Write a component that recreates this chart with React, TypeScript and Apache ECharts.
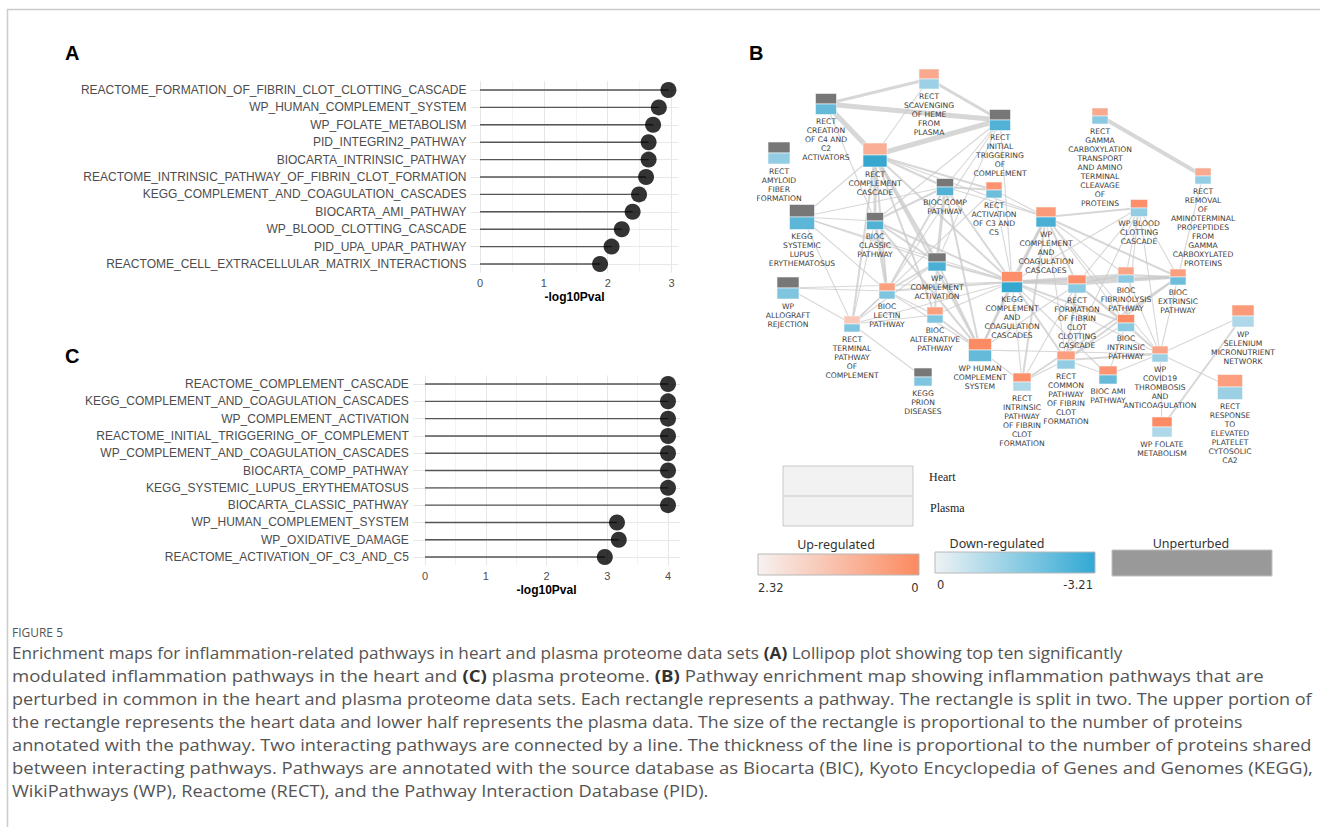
import React, { useEffect, useRef } from 'react';
import * as echarts from 'echarts';

const W = 1320;
const H = 827;

// ---------- Panel A (heart) ----------
const panelACategories = [
  'REACTOME_FORMATION_OF_FIBRIN_CLOT_CLOTTING_CASCADE',
  'WP_HUMAN_COMPLEMENT_SYSTEM',
  'WP_FOLATE_METABOLISM',
  'PID_INTEGRIN2_PATHWAY',
  'BIOCARTA_INTRINSIC_PATHWAY',
  'REACTOME_INTRINSIC_PATHWAY_OF_FIBRIN_CLOT_FORMATION',
  'KEGG_COMPLEMENT_AND_COAGULATION_CASCADES',
  'BIOCARTA_AMI_PATHWAY',
  'WP_BLOOD_CLOTTING_CASCADE',
  'PID_UPA_UPAR_PATHWAY',
  'REACTOME_CELL_EXTRACELLULAR_MATRIX_INTERACTIONS',
];
const panelAValues = [2.95, 2.8, 2.71, 2.64, 2.64, 2.6, 2.49, 2.39, 2.22, 2.06, 1.88];
const panelATicks = [0, 1, 2, 3];
const panelAMinor = [0.5, 1.5, 2.5];

// ---------- Panel C (plasma) ----------
const panelCCategories = [
  'REACTOME_COMPLEMENT_CASCADE',
  'KEGG_COMPLEMENT_AND_COAGULATION_CASCADES',
  'WP_COMPLEMENT_ACTIVATION',
  'REACTOME_INITIAL_TRIGGERING_OF_COMPLEMENT',
  'WP_COMPLEMENT_AND_COAGULATION_CASCADES',
  'BIOCARTA_COMP_PATHWAY',
  'KEGG_SYSTEMIC_LUPUS_ERYTHEMATOSUS',
  'BIOCARTA_CLASSIC_PATHWAY',
  'WP_HUMAN_COMPLEMENT_SYSTEM',
  'WP_OXIDATIVE_DAMAGE',
  'REACTOME_ACTIVATION_OF_C3_AND_C5',
];
const panelCValues = [4, 4, 4, 4, 4, 4, 4, 4, 3.16, 3.19, 2.96];
const panelCTicks = [0, 1, 2, 3, 4];
const panelCMinor = [0.5, 1.5, 2.5, 3.5];

// ---------- Panel B (network) ----------
const nodeIds = [
  'SCAV', 'CREATION', 'INITIAL', 'AMYLOID', 'COMPCASC', 'BIOCCOMP', 'ACTC3C5', 'KEGGSLE',
  'BIOCCLASSIC', 'WPCOMPACT', 'GAMMA', 'REMOVAL', 'WPCOMPCOAG', 'WPBLOOD', 'KEGGCOMP', 'FORMATION',
  'FIBRINOLYSIS', 'EXTRINSIC', 'BIOCINTRINSIC', 'SELENIUM', 'COMMON', 'BIOCAMI', 'COVID', 'RECTINTRINSIC',
  'RESPONSE', 'FOLATE', 'ALLOGRAFT', 'LECTIN', 'TERMINAL', 'ALTERNATIVE', 'WPHUMAN', 'PRION',
];
const nodeLabels = [
  'RECT\nSCAVENGING\nOF HEME\nFROM\nPLASMA',
  'RECT\nCREATION\nOF C4 AND\nC2\nACTIVATORS',
  'RECT\nINITIAL\nTRIGGERING\nOF\nCOMPLEMENT',
  'RECT\nAMYLOID\nFIBER\nFORMATION',
  'RECT\nCOMPLEMENT\nCASCADE',
  'BIOC COMP\nPATHWAY',
  'RECT\nACTIVATION\nOF C3 AND\nC5',
  'KEGG\nSYSTEMIC\nLUPUS\nERYTHEMATOSUS',
  'BIOC\nCLASSIC\nPATHWAY',
  'WP\nCOMPLEMENT\nACTIVATION',
  'RECT\nGAMMA\nCARBOXYLATION\nTRANSPORT\nAND AMINO\nTERMINAL\nCLEAVAGE\nOF\nPROTEINS',
  'RECT\nREMOVAL\nOF\nAMINOTERMINAL\nPROPEPTIDES\nFROM\nGAMMA\nCARBOXYLATED\nPROTEINS',
  'WP\nCOMPLEMENT\nAND\nCOAGULATION\nCASCADES',
  'WP BLOOD\nCLOTTING\nCASCADE',
  'KEGG\nCOMPLEMENT\nAND\nCOAGULATION\nCASCADES',
  'RECT\nFORMATION\nOF FIBRIN\nCLOT\nCLOTTING\nCASCADE',
  'BIOC\nFIBRINOLYSIS\nPATHWAY',
  'BIOC\nEXTRINSIC\nPATHWAY',
  'BIOC\nINTRINSIC\nPATHWAY',
  'WP\nSELENIUM\nMICRONUTRIENT\nNETWORK',
  'RECT\nCOMMON\nPATHWAY\nOF FIBRIN\nCLOT\nFORMATION',
  'BIOC AMI\nPATHWAY',
  'WP\nCOVID19\nTHROMBOSIS\nAND\nANTICOAGULATION',
  'RECT\nINTRINSIC\nPATHWAY\nOF FIBRIN\nCLOT\nFORMATION',
  'RECT\nRESPONSE\nTO\nELEVATED\nPLATELET\nCYTOSOLIC\nCA2',
  'WP FOLATE\nMETABOLISM',
  'WP\nALLOGRAFT\nREJECTION',
  'BIOC\nLECTIN\nPATHWAY',
  'RECT\nTERMINAL\nPATHWAY\nOF\nCOMPLEMENT',
  'BIOC\nALTERNATIVE\nPATHWAY',
  'WP HUMAN\nCOMPLEMENT\nSYSTEM',
  'KEGG\nPRION\nDISEASES',
];
// layout coordinates of the network (relative to panel origin)
const nodeX = [189, 86, 260, 39, 135, 205, 254, 62, 135, 197, 360, 463, 306, 399, 272, 337,
  386, 438, 386, 503, 326, 368, 420, 282, 490, 422, 48, 147, 112, 195, 240, 183];
const nodeY = [39, 64, 80, 113, 115, 147, 150, 177, 181, 222, 76, 136, 177, 168, 242, 244,
  235, 237, 283, 276, 320, 335, 314, 342, 347, 387, 248, 251, 284, 275, 310, 337];
// number-of-proteins scaled rectangle size
const nodeSize = [20, 21, 21, 22, 24, 17, 16, 25, 17, 18, 16, 16, 20, 17, 21, 18,
  16, 16, 17, 22, 18, 18, 16, 18, 25, 20, 22, 16, 16, 16, 23, 18];
// heart (upper half) and plasma (lower half) values; null = unperturbed
const heartValues: (number | null)[] = [1.62, null, null, null, 1.51, null, 2.09, null,
  null, null, 1.62, 1.62, 1.97, 2.2, 2.2, 2.2,
  1.74, 1.86, 2.32, 1.97, 1.86, 2.09, 1.74, 2.2,
  1.86, 2.32, null, 1.86, 0.93, 1.86, 2.32, null];
const plasmaValues: (number | null)[] = [-1.44, -2.41, -2.73, -1.6, -3.21, -2.73, -2.25, -2.57,
  -2.73, -2.89, -1.77, -1.6, -2.89, -1.6, -3.21, -1.77,
  -1.77, -2.25, -1.77, -1.12, -1.6, -2.41, -1.44, -1.12,
  -1.44, -1.12, -1.93, -1.93, -1.93, -1.93, -2.41, -1.93];

// edges: [source, target, shared proteins weight]
const edgeList: [string, string, number][] = [
  ['CREATION', 'INITIAL', 5], ['CREATION', 'COMPCASC', 5], ['COMPCASC', 'INITIAL', 5],
  ['SCAV', 'CREATION', 3], ['SCAV', 'INITIAL', 3], ['SCAV', 'COMPCASC', 1], ['GAMMA', 'REMOVAL', 4],
  ['COMPCASC', 'BIOCCLASSIC', 3], ['COMPCASC', 'WPCOMPACT', 3], ['COMPCASC', 'BIOCCOMP', 2],
  ['COMPCASC', 'ACTC3C5', 2], ['COMPCASC', 'LECTIN', 2], ['COMPCASC', 'ALTERNATIVE', 2],
  ['COMPCASC', 'TERMINAL', 2], ['COMPCASC', 'KEGGCOMP', 2], ['COMPCASC', 'WPHUMAN', 2],
  ['COMPCASC', 'KEGGSLE', 1], ['COMPCASC', 'WPCOMPCOAG', 1],
  ['INITIAL', 'BIOCCOMP', 1], ['INITIAL', 'BIOCCLASSIC', 1], ['INITIAL', 'WPCOMPACT', 1],
  ['INITIAL', 'LECTIN', 1], ['INITIAL', 'KEGGCOMP', 1], ['CREATION', 'BIOCCLASSIC', 1],
  ['KEGGSLE', 'BIOCCLASSIC', 1], ['KEGGSLE', 'BIOCCOMP', 1], ['KEGGSLE', 'WPCOMPACT', 1],
  ['KEGGSLE', 'TERMINAL', 1], ['KEGGSLE', 'KEGGCOMP', 1], ['KEGGSLE', 'LECTIN', 1],
  ['BIOCCOMP', 'ACTC3C5', 2], ['BIOCCOMP', 'WPCOMPACT', 3], ['BIOCCOMP', 'BIOCCLASSIC', 2],
  ['BIOCCOMP', 'LECTIN', 2], ['BIOCCOMP', 'WPHUMAN', 2], ['BIOCCOMP', 'KEGGCOMP', 2],
  ['BIOCCOMP', 'WPCOMPCOAG', 1], ['ACTC3C5', 'KEGGCOMP', 1], ['ACTC3C5', 'WPCOMPCOAG', 1],
  ['ACTC3C5', 'TERMINAL', 1], ['BIOCCLASSIC', 'WPCOMPACT', 2], ['BIOCCLASSIC', 'LECTIN', 3],
  ['BIOCCLASSIC', 'WPHUMAN', 2], ['BIOCCLASSIC', 'KEGGCOMP', 2], ['BIOCCLASSIC', 'TERMINAL', 1],
  ['WPCOMPACT', 'LECTIN', 2], ['WPCOMPACT', 'ALTERNATIVE', 2], ['WPCOMPACT', 'KEGGCOMP', 2],
  ['WPCOMPACT', 'WPHUMAN', 2], ['WPCOMPACT', 'TERMINAL', 1], ['LECTIN', 'KEGGCOMP', 2],
  ['LECTIN', 'WPHUMAN', 1], ['LECTIN', 'TERMINAL', 1], ['LECTIN', 'ALTERNATIVE', 1],
  ['ALTERNATIVE', 'KEGGCOMP', 1], ['ALTERNATIVE', 'WPHUMAN', 2], ['ALTERNATIVE', 'TERMINAL', 1],
  ['TERMINAL', 'KEGGCOMP', 1], ['TERMINAL', 'PRION', 1], ['ALLOGRAFT', 'LECTIN', 1],
  ['ALLOGRAFT', 'TERMINAL', 1], ['ALLOGRAFT', 'KEGGCOMP', 1], ['WPHUMAN', 'KEGGCOMP', 2],
  ['WPHUMAN', 'WPCOMPCOAG', 2], ['WPHUMAN', 'COVID', 1], ['WPHUMAN', 'RECTINTRINSIC', 1],
  ['WPHUMAN', 'FORMATION', 1], ['KEGGCOMP', 'WPCOMPCOAG', 3], ['KEGGCOMP', 'FORMATION', 3],
  ['KEGGCOMP', 'FIBRINOLYSIS', 3], ['KEGGCOMP', 'EXTRINSIC', 3], ['KEGGCOMP', 'BIOCINTRINSIC', 2],
  ['KEGGCOMP', 'COMMON', 2], ['KEGGCOMP', 'RECTINTRINSIC', 1], ['KEGGCOMP', 'WPBLOOD', 1],
  ['KEGGCOMP', 'COVID', 1], ['KEGGCOMP', 'BIOCAMI', 1], ['WPCOMPCOAG', 'WPBLOOD', 2],
  ['WPCOMPCOAG', 'EXTRINSIC', 2], ['WPCOMPCOAG', 'FIBRINOLYSIS', 1], ['WPCOMPCOAG', 'FORMATION', 2],
  ['WPCOMPCOAG', 'BIOCINTRINSIC', 1], ['WPCOMPCOAG', 'COVID', 1], ['WPCOMPCOAG', 'RECTINTRINSIC', 2],
  ['WPCOMPCOAG', 'COMMON', 1], ['WPBLOOD', 'FORMATION', 1], ['WPBLOOD', 'FIBRINOLYSIS', 1],
  ['WPBLOOD', 'EXTRINSIC', 1], ['WPBLOOD', 'BIOCINTRINSIC', 1], ['WPBLOOD', 'COVID', 1],
  ['WPBLOOD', 'COMMON', 1], ['FORMATION', 'EXTRINSIC', 3], ['FORMATION', 'FIBRINOLYSIS', 2],
  ['FORMATION', 'BIOCINTRINSIC', 2], ['FORMATION', 'COMMON', 2], ['FORMATION', 'COVID', 1],
  ['FORMATION', 'RECTINTRINSIC', 1], ['FIBRINOLYSIS', 'EXTRINSIC', 2], ['FIBRINOLYSIS', 'COVID', 1],
  ['EXTRINSIC', 'RECTINTRINSIC', 2], ['EXTRINSIC', 'COMMON', 2], ['EXTRINSIC', 'COVID', 1],
  ['EXTRINSIC', 'REMOVAL', 1], ['BIOCINTRINSIC', 'BIOCAMI', 1], ['BIOCINTRINSIC', 'COMMON', 1],
  ['BIOCINTRINSIC', 'COVID', 1], ['COMMON', 'COVID', 2], ['COMMON', 'BIOCAMI', 1],
  ['COMMON', 'RECTINTRINSIC', 1], ['BIOCAMI', 'COVID', 1], ['COVID', 'SELENIUM', 1],
  ['COVID', 'RESPONSE', 1], ['COVID', 'FOLATE', 1], ['SELENIUM', 'FOLATE', 2],
];

// ---------- legend ----------
const upRange = [2.32, 0];
const downRange = [0, -3.21];

// ---------- caption ----------
const captionTitle = 'FIGURE 5';
const captionLines: [string, boolean][][] = [
  [['Enrichment maps for inflammation-related pathways in heart and plasma proteome data sets ', false], ['(A)', true], [' Lollipop plot showing top ten significantly', false]],
  [['modulated inflammation pathways in the heart and ', false], ['(C)', true], [' plasma proteome. ', false], ['(B)', true], [' Pathway enrichment map showing inflammation pathways that are', false]],
  [['perturbed in common in the heart and plasma proteome data sets. Each rectangle represents a pathway. The rectangle is split in two. The upper portion of', false]],
  [['the rectangle represents the heart data and lower half represents the plasma data. The size of the rectangle is proportional to the number of proteins', false]],
  [['annotated with the pathway. Two interacting pathways are connected by a line. The thickness of the line is proportional to the number of proteins shared', false]],
  [['between interacting pathways. Pathways are annotated with the source database as Biocarta (BIC), Kyoto Encyclopedia of Genes and Genomes (KEGG),', false]],
  [['WikiPathways (WP), Reactome (RECT), and the Pathway Interaction Database (PID).', false]],
];
const captionWidths = [1110, 1252, 1301, 1230, 1301, 1301, 697];

// ---------- helpers ----------
const UP_LOW = [247, 242, 241];
const UP_HIGH = [252, 138, 99];
const DOWN_LOW = [238, 243, 246];
const DOWN_HIGH = [55, 167, 208];
const UNPERTURBED = '#777777';

function valueColor(v: number | null): string {
  if (v === null || v === undefined) return UNPERTURBED;
  const up = v >= 0;
  const lo = up ? UP_LOW : DOWN_LOW;
  const hi = up ? UP_HIGH : DOWN_HIGH;
  const t = Math.min(1, up ? v / upRange[0] : v / downRange[1]);
  const c = lo.map((l, i) => Math.round(l + (hi[i] - l) * t));
  return `rgb(${c[0]},${c[1]},${c[2]})`;
}

function lollipop(
  idx: number,
  cats: string[],
  vals: number[],
  ticks: number[],
  minor: number[],
) {
  const major = ticks.map((t) => ({ xAxis: t, lineStyle: { color: '#e6e6e6', width: 1, type: 'solid' } }));
  const minors = minor.map((t) => ({ xAxis: t, lineStyle: { color: '#f3f3f3', width: 1, type: 'solid' } }));
  const rows = cats.map((c) => ({ yAxis: c, lineStyle: { color: '#e8e8e8', width: 1, type: 'solid' } }));
  return [
    {
      type: 'bar',
      xAxisIndex: idx,
      yAxisIndex: idx,
      data: vals,
      barWidth: 1.4,
      itemStyle: { color: '#555555' },
      z: 2,
      silent: true,
      markLine: {
        silent: true,
        symbol: 'none',
        z: 1,
        label: { show: false },
        emphasis: { disabled: true },
        data: [...minors, ...major, ...rows],
      },
    },
    {
      type: 'scatter',
      xAxisIndex: idx,
      yAxisIndex: idx,
      data: vals.map((v, i) => [v, cats[i]]),
      symbolSize: 16,
      itemStyle: { color: '#000000' },
      z: 3,
      silent: true,
    },
  ];
}

export default function App() {
  const ref = useRef<HTMLDivElement>(null);
  useEffect(() => {
    const el = ref.current;
    if (!el) return;
    const chart = echarts.init(el, undefined, { renderer: 'svg', width: W, height: H });

    // caption measurement
    const canvas = document.createElement('canvas');
    const ctx = canvas.getContext('2d')!;
    const capFamily = '"Open Sans"';
    const capSize = 16;
    const measure = (t: string, bold: boolean) => {
      ctx.font = `${bold ? 'bold ' : ''}${capSize}px ${capFamily}`;
      return ctx.measureText(t).width;
    };
    const captionGraphics = captionLines.map((segs, li) => {
      const total = segs.reduce((s, [t, b]) => s + measure(t, b), 0);
      const sx = total > 0 ? captionWidths[li] / total : 1;
      const text = segs.map(([t, b]) => `{${b ? 'b' : 'n'}|${t}}`).join('');
      return {
        type: 'text',
        x: 12,
        y: 653 + li * 23,
        scaleX: sx,
        style: {
          text,
          align: 'left',
          verticalAlign: 'middle',
          rich: {
            n: { fontSize: capSize, fontFamily: 'Open Sans', fill: '#555555' },
            b: { fontSize: capSize, fontFamily: 'Open Sans', fontWeight: 'bold', fill: '#333333' },
          },
        },
      };
    });
    ctx.font = `12px ${capFamily}`;
    const figW = ctx.measureText(captionTitle).width;

    const edgeData = edgeList.map(([a, b, w]) => {
      const ia = nodeIds.indexOf(a);
      const ib = nodeIds.indexOf(b);
      return [nodeX[ia], nodeY[ia], nodeX[ib], nodeY[ib], w];
    });
    const nodeData = nodeIds.map((_, i) => [nodeX[i], nodeY[i], nodeSize[i], i]);

    const labelStyle = { fontSize: 12, color: '#4d4d4d', fontFamily: 'Liberation Sans', interval: 0, margin: 4 };
    const tickLabel = { fontSize: 11, color: '#4d4d4d', fontFamily: 'Liberation Sans', margin: 5 };
    const nameStyle = { fontSize: 12, fontWeight: 'bold', color: '#000', fontFamily: 'Liberation Sans' };

    const option: any = {
      animation: false,
      grid: [
        { left: 470.5, top: 81.3, width: 208, height: 191.4, outerBoundsMode: 'none' },
        { left: 412.85, top: 375.4, width: 267.3, height: 190.3, outerBoundsMode: 'none' },
        { left: 757, top: 40, width: 563, height: 430, outerBoundsMode: 'none' },
      ],
      xAxis: [
        {
          gridIndex: 0, type: 'value', min: -0.148, max: 3.108,
          axisLine: { show: false }, axisTick: { show: false }, splitLine: { show: false },
          axisLabel: { ...tickLabel, customValues: panelATicks },
          name: '-log10Pval', nameLocation: 'middle', nameGap: 18, nameTextStyle: nameStyle,
        },
        {
          gridIndex: 1, type: 'value', min: -0.2, max: 4.2,
          axisLine: { show: false }, axisTick: { show: false }, splitLine: { show: false },
          axisLabel: { ...tickLabel, customValues: panelCTicks },
          name: '-log10Pval', nameLocation: 'middle', nameGap: 18, nameTextStyle: nameStyle,
        },
        { gridIndex: 2, type: 'value', min: 17, max: 580, show: false },
      ],
      yAxis: [
        {
          gridIndex: 0, type: 'category', data: panelACategories, inverse: true,
          axisLine: { show: false }, axisTick: { show: false }, splitLine: { show: false },
          axisLabel: labelStyle,
        },
        {
          gridIndex: 1, type: 'category', data: panelCCategories, inverse: true,
          axisLine: { show: false }, axisTick: { show: false }, splitLine: { show: false },
          axisLabel: labelStyle,
        },
        { gridIndex: 2, type: 'value', min: 0, max: 430, inverse: true, show: false },
      ],
      series: [
        ...lollipop(0, panelACategories, panelAValues, panelATicks, panelAMinor),
        ...lollipop(1, panelCCategories, panelCValues, panelCTicks, panelCMinor),
        {
          type: 'custom',
          xAxisIndex: 2,
          yAxisIndex: 2,
          clip: true,
          silent: true,
          z: 2,
          dimensions: ['x1', 'y1', 'x2', 'y2', 'w'],
          encode: { x: [0, 2], y: [1, 3] },
          data: edgeData,
          renderItem: (params: any, api: any) => {
            const p1 = api.coord([api.value(0), api.value(1)]);
            const p2 = api.coord([api.value(2), api.value(3)]);
            const w = api.value(4) as number;
            return {
              type: 'line',
              shape: { x1: p1[0], y1: p1[1], x2: p2[0], y2: p2[1] },
              style: { stroke: '#c9c9c9', lineWidth: w === 1 ? 1.1 : w, opacity: 0.75 },
            };
          },
        },
        {
          type: 'custom',
          xAxisIndex: 2,
          yAxisIndex: 2,
          clip: true,
          silent: true,
          z: 3,
          dimensions: ['x', 'y', 'size', 'idx'],
          encode: { x: 0, y: 1 },
          data: nodeData,
          renderItem: (params: any, api: any) => {
            const i = api.value(3) as number;
            const p = api.coord([api.value(0), api.value(1)]);
            const sz = api.size([api.value(2), api.value(2)]) as number[];
            const w = Math.abs(sz[0]);
            const h = Math.abs(sz[1]);
            const x0 = p[0] - w / 2;
            const y0 = p[1] - h / 2;
            return {
              type: 'group',
              children: [
                {
                  type: 'rect',
                  shape: { x: x0, y: y0, width: w, height: h / 2 },
                  style: { fill: valueColor(heartValues[i]), stroke: '#f4f8fa', lineWidth: 0.6 },
                },
                {
                  type: 'rect',
                  shape: { x: x0, y: p[1], width: w, height: h / 2 },
                  style: { fill: valueColor(plasmaValues[i]), stroke: '#f4f8fa', lineWidth: 0.6 },
                },
                {
                  type: 'text',
                  x: p[0],
                  y: y0 + h + 2.5,
                  style: {
                    text: nodeLabels[i],
                    align: 'center',
                    verticalAlign: 'top',
                    fontSize: 7.6,
                    fontFamily: 'DejaVu Sans',
                    lineHeight: 9,
                    fill: '#3c3c3c',
                  },
                },
              ],
            };
          },
        },
      ],
      graphic: [
        // frame
        { type: 'line', shape: { x1: 7, y1: 9.5, x2: W, y2: 9.5 }, style: { stroke: '#cccccc', lineWidth: 1.5 } },
        { type: 'line', shape: { x1: 7.5, y1: 9, x2: 7.5, y2: H }, style: { stroke: '#cccccc', lineWidth: 1.5 } },
        // panel letters
        { type: 'text', x: 65, y: 53, style: { text: 'A', fontSize: 20, fontWeight: 'bold', fontFamily: 'Liberation Sans', fill: '#000', verticalAlign: 'middle' } },
        { type: 'text', x: 749, y: 53, style: { text: 'B', fontSize: 20, fontWeight: 'bold', fontFamily: 'Liberation Sans', fill: '#000', verticalAlign: 'middle' } },
        { type: 'text', x: 65, y: 356, style: { text: 'C', fontSize: 20, fontWeight: 'bold', fontFamily: 'Liberation Sans', fill: '#000', verticalAlign: 'middle' } },
        // Heart / Plasma legend
        { type: 'rect', shape: { x: 783, y: 466, width: 130, height: 60 }, style: { fill: '#f2f2f2', stroke: '#c8c8c8', lineWidth: 1 } },
        { type: 'line', shape: { x1: 783, y1: 496, x2: 913, y2: 496 }, style: { stroke: '#c8c8c8', lineWidth: 1 } },
        { type: 'text', x: 929, y: 477, style: { text: 'Heart', fontSize: 12, fontFamily: 'Liberation Serif', fill: '#222', verticalAlign: 'middle' } },
        { type: 'text', x: 930, y: 508, style: { text: 'Plasma', fontSize: 12, fontFamily: 'Liberation Serif', fill: '#222', verticalAlign: 'middle' } },
        // Up-regulated
        { type: 'text', x: 836, y: 544, style: { text: 'Up-regulated', fontSize: 12.5, fontFamily: 'Noto Sans', fill: '#333', align: 'center', verticalAlign: 'middle' } },
        {
          type: 'rect', shape: { x: 758, y: 554, width: 161, height: 21 },
          style: {
            fill: { type: 'linear', x: 0, y: 0, x2: 1, y2: 0, colorStops: [{ offset: 0, color: '#f6f1f0' }, { offset: 1, color: '#fc8a5f' }] },
            stroke: '#b8b8b8', lineWidth: 1,
          },
        },
        { type: 'text', x: 758, y: 588, style: { text: String(upRange[0]), fontSize: 11.5, fontFamily: 'DejaVu Sans', fill: '#333', align: 'left', verticalAlign: 'middle' } },
        { type: 'text', x: 915, y: 588, style: { text: String(upRange[1]), fontSize: 11.5, fontFamily: 'DejaVu Sans', fill: '#333', align: 'center', verticalAlign: 'middle' } },
        // Down-regulated
        { type: 'text', x: 997, y: 543, style: { text: 'Down-regulated', fontSize: 12.5, fontFamily: 'Noto Sans', fill: '#333', align: 'center', verticalAlign: 'middle' } },
        {
          type: 'rect', shape: { x: 935, y: 552, width: 160, height: 21 },
          style: {
            fill: { type: 'linear', x: 0, y: 0, x2: 1, y2: 0, colorStops: [{ offset: 0, color: '#eef2f4' }, { offset: 1, color: '#31a9d4' }] },
            stroke: '#b8b8b8', lineWidth: 1,
          },
        },
        { type: 'text', x: 937, y: 585, style: { text: String(downRange[0]), fontSize: 11.5, fontFamily: 'DejaVu Sans', fill: '#333', align: 'left', verticalAlign: 'middle' } },
        { type: 'text', x: 1093, y: 585, style: { text: String(downRange[1]), fontSize: 11.5, fontFamily: 'DejaVu Sans', fill: '#333', align: 'right', verticalAlign: 'middle' } },
        // Unperturbed
        { type: 'text', x: 1191, y: 543, style: { text: 'Unperturbed', fontSize: 12.5, fontFamily: 'Noto Sans', fill: '#333', align: 'center', verticalAlign: 'middle' } },
        { type: 'rect', shape: { x: 1112, y: 550, width: 160, height: 26 }, style: { fill: '#999999', stroke: '#c0c0c0', lineWidth: 1 } },
        // caption
        {
          type: 'text', x: 12, y: 632, scaleX: figW > 0 ? 51 / figW : 1,
          style: { text: captionTitle, fontSize: 12, fontFamily: 'Open Sans', fill: '#555555', verticalAlign: 'middle' },
        },
        ...captionGraphics,
      ],
    };
    chart.setOption(option);
    return () => chart.dispose();
  }, []);
  return <div ref={ref} style={{ position: 'absolute', left: 0, top: 0, width: W, height: H, background: '#fff' }} />;
}
